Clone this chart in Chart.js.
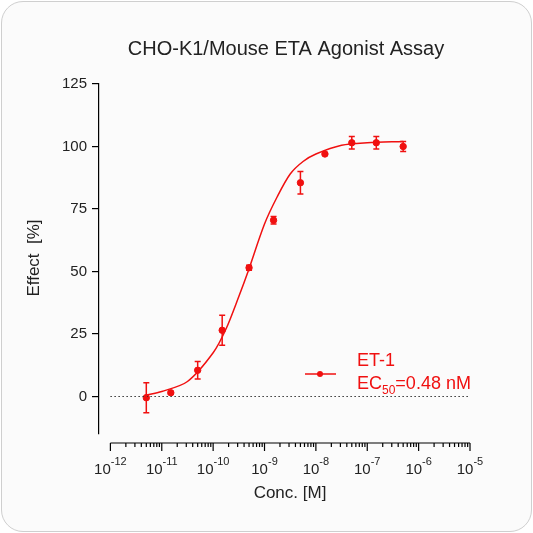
<!DOCTYPE html>
<html><head><meta charset="utf-8">
<script src="https://cdn.jsdelivr.net/npm/chart.js@4"></script>
<style>
html,body{margin:0;padding:0;background:#fff}
#wrap{position:absolute;left:1px;top:1px;width:529px;height:529px;border:1px solid #cfcfcf;border-radius:22px;background:#fbfbfb;overflow:hidden}
canvas{position:absolute;left:-2px;top:-2px}
</style></head><body>
<div id="wrap"><canvas id="c" width="533" height="533"></canvas></div>
<script>
// concentrations in M
const conc = [5e-12, 1.5e-11, 5e-11, 1.5e-10, 5e-10, 1.5e-9, 5e-9, 1.5e-8, 5e-8, 1.5e-7, 5e-7];
const effect = [-0.5, 1.5, 10.5, 26.5, 51.5, 70.5, 85.5, 97, 101.5, 101.5, 100];
const errs = [6, 0.5, 3.5, 6, 1, 1.5, 4.5, 0.5, 2.5, 2.5, 2];
// fitted curve (log10 conc, effect)
const curveLog = [-11.33, -11, -10.5, -10, -9.75, -9.5, -9.32, -9, -8.75, -8.5, -8.25, -8, -7.5, -7, -6.3];
const curveVal = [0.5, 2, 6, 17.5, 27, 40, 50, 69, 80, 89, 94, 97, 100.5, 101.5, 102];
const yTicks = [0, 25, 50, 75, 100, 125];
const decades = [-12, -11, -10, -9, -8, -7, -6, -5];

const FONT = 'Liberation Sans, Arial, sans-serif';
const RED = '#f01010';

const extras = {
  id: 'extras',
  afterDatasetsDraw(chart) {
    const ctx = chart.ctx, xs = chart.scales.x, ys = chart.scales.y;
    ctx.save();
    // error bars
    ctx.strokeStyle = RED; ctx.lineWidth = 1.5;
    conc.forEach((c, i) => {
      const px = xs.getPixelForValue(c);
      const t = ys.getPixelForValue(effect[i] + errs[i]);
      const b = ys.getPixelForValue(effect[i] - errs[i]);
      ctx.beginPath();
      ctx.moveTo(px, t); ctx.lineTo(px, b);
      ctx.moveTo(px - 3, t); ctx.lineTo(px + 3, t);
      ctx.moveTo(px - 3, b); ctx.lineTo(px + 3, b);
      ctx.stroke();
    });
    // x axis
    const ay = 443;
    ctx.strokeStyle = '#000'; ctx.lineWidth = 1.2;
    ctx.beginPath();
    ctx.moveTo(xs.getPixelForValue(1e-12), ay); ctx.lineTo(xs.getPixelForValue(1e-5), ay);
    decades.forEach((d, k) => {
      const px = xs.getPixelForValue(Math.pow(10, d));
      ctx.moveTo(px, ay); ctx.lineTo(px, ay + 8);
      if (k < decades.length - 1) {
        for (let m = 2; m <= 9; m++) {
          const q = xs.getPixelForValue(m * Math.pow(10, d));
          ctx.moveTo(q, ay); ctx.lineTo(q, ay + 4);
        }
      }
    });
    ctx.stroke();
    ctx.fillStyle = '#222'; ctx.textBaseline = 'alphabetic';
    decades.forEach(d => {
      const px = xs.getPixelForValue(Math.pow(10, d));
      const e = String(d);
      ctx.font = '15px ' + FONT;
      const w1 = ctx.measureText('10').width;
      ctx.font = '11px ' + FONT;
      const w2 = ctx.measureText(e).width;
      const x0 = px - (w1 + w2) / 2;
      ctx.font = '15px ' + FONT; ctx.textAlign = 'left';
      ctx.fillText('10', x0, 474);
      ctx.font = '11px ' + FONT;
      ctx.fillText(e, x0 + w1, 465);
    });
    // titles
    ctx.textAlign = 'center';
    ctx.font = '17px ' + FONT;
    ctx.fillText('Conc. [M]', 290, 498);
    ctx.save();
    ctx.translate(39, 258); ctx.rotate(-Math.PI / 2);
    ctx.fillText('Effect  [%]', 0, 0);
    ctx.restore();
    ctx.font = '20px ' + FONT;
    ctx.fillText('CHO-K1/Mouse ETA Agonist Assay', 286, 55);
    // legend
    ctx.strokeStyle = RED; ctx.lineWidth = 1.5;
    ctx.beginPath(); ctx.moveTo(305, 374); ctx.lineTo(336, 374); ctx.stroke();
    ctx.fillStyle = RED;
    ctx.beginPath(); ctx.arc(320, 374, 3, 0, Math.PI * 2); ctx.fill();
    ctx.textAlign = 'left'; ctx.font = '18px ' + FONT;
    ctx.fillText('ET-1', 357, 366);
    ctx.fillText('EC', 357, 389);
    const wEC = ctx.measureText('EC').width;
    ctx.font = '12px ' + FONT;
    ctx.fillText('50', 357 + wEC, 394);
    const w50 = ctx.measureText('50').width;
    ctx.font = '18px ' + FONT;
    ctx.fillText('=0.48 nM', 357 + wEC + w50, 389);
    ctx.restore();
  }
};

new Chart(document.getElementById('c'), {
  type: 'scatter',
  data: {
    datasets: [
      {
        data: [{x: 1e-12, y: 0}, {x: 1e-5, y: 0}],
        showLine: true, borderColor: '#333', borderWidth: 1, borderDash: [1.5, 2.5],
        pointRadius: 0
      },
      {
        data: curveLog.map((l, i) => ({x: Math.pow(10, l), y: curveVal[i]})),
        showLine: true, borderColor: RED, borderWidth: 1.5, tension: 0.3,
        pointRadius: 0
      },
      {
        data: conc.map((c, i) => ({x: c, y: effect[i]})),
        backgroundColor: RED, borderColor: RED, pointRadius: 3.2
      }
    ]
  },
  options: {
    responsive: false, animation: false,
    layout: {padding: {left: 0, top: 84, right: 63, bottom: 0}},
    plugins: {legend: {display: false}, tooltip: {enabled: false}},
    scales: {
      x: {
        type: 'logarithmic', min: Math.pow(10, -12.19), max: 1e-5,
        ticks: {display: false}, grid: {display: false}, border: {display: false},
        afterFit(s) { s.height = 99; }
      },
      y: {
        min: -15, max: 125,
        afterBuildTicks(s) { s.ticks = yTicks.map(v => ({value: v})); },
        afterFit(s) { s.width = 99; },
        ticks: {color: '#222', font: {size: 15, family: FONT}, padding: 5},
        grid: {drawOnChartArea: false, tickLength: 7, color: '#000', lineWidth: 1.2},
        border: {color: '#000', width: 1.2}
      }
    }
  },
  plugins: [extras]
});
</script>
</body></html>
